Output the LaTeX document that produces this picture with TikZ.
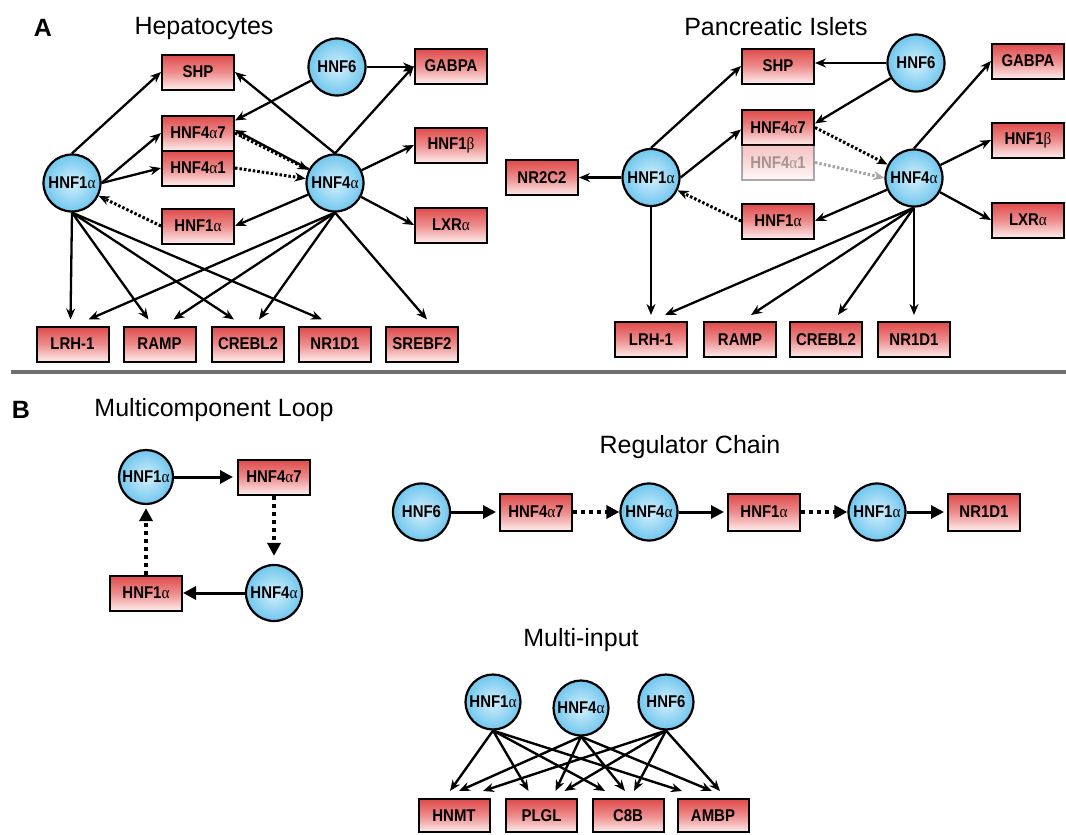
\documentclass[tikz,border=0pt]{standalone}
\usepackage{fontspec}
\setmainfont{Liberation Sans}
\newfontfamily\labelfont[FakeStretch=0.88]{Liberation Sans}
\newfontfamily\grfont[FakeStretch=0.9]{Liberation Serif}
\usetikzlibrary{arrows.meta,calc}
\pgfdeclarelayer{back}
\pgfdeclarelayer{wires}
\pgfsetlayers{back,wires,main}

\definecolor{boxtop}{RGB}{222,74,74}
\definecolor{boxmid}{RGB}{238,140,140}
\definecolor{boxbot}{RGB}{253,236,236}
\definecolor{ballin}{RGB}{212,240,252}
\definecolor{ballout}{RGB}{112,198,238}
\definecolor{rulegray}{RGB}{112,112,112}

\newcommand{\gal}{{\grfont\mdseries α}}
\newcommand{\gbe}{{\grfont\mdseries β}}

\tikzset{
  gene/.style={rectangle, draw=black, line width=2pt,
    minimum width=72pt, minimum height=35pt, inner sep=0pt,
    top color=boxtop, bottom color=boxbot, middle color=boxmid,
    font=\labelfont\bfseries\fontsize{17pt}{17pt}\selectfont},
  faded/.style={opacity=0.32, text opacity=0.32},
  tf/.style={circle, draw=black, line width=2.2pt, minimum size=57pt,
    inner sep=0pt, inner color=ballin, outer color=ballout,
    font=\labelfont\bfseries\fontsize{17pt}{17pt}\selectfont},
  heading/.style={font=\fontsize{25pt}{25pt}\selectfont},
  panel/.style={font=\bfseries\fontsize{25pt}{25pt}\selectfont},
  edge/.style={line width=2.3pt, -{Stealth[length=11pt,width=9pt]}},
  dots/.style={edge, line width=3pt, dash pattern=on 2.5pt off 2pt},
  fadeddots/.style={dots, draw=black!35, -{Stealth[length=11pt,width=9pt,fill=black!35]}},
  bedge/.style={line width=3pt, -{Triangle[length=13pt,width=13pt]}},
  bdots/.style={bedge, line width=4pt, dash pattern=on 4pt off 4pt},
  medge/.style={line width=2.4pt, -{Stealth[length=11pt,width=9pt]}},
}

\begin{document}
\begin{tikzpicture}[x=1pt,y=-1pt]
\useasboundingbox (0,0) rectangle (1066,835);
\begin{pgfonlayer}{back}
  \fill[white] (0,0) rectangle (1066,835);
\end{pgfonlayer}

% ---------------- panel A: hepatocytes ----------------
\node[panel] (labA) at (43,28) {A};
\node[heading] (tHep) at (204,28) {Hepatocytes};

\node[gene] (hSHP)   at (198,72)  {SHP};
\node[tf]   (hHNF6)  at (337,67)  {HNF6};
\node[gene] (hGABPA) at (451,66)  {GABPA};
\node[gene] (hA7)    at (198,133) {HNF4\gal7};
\node[gene] (hA1)    at (198,168) {HNF4\gal1};
\node[tf]   (hN1)    at (72,183)  {HNF1\gal};
\node[tf]   (hN4)    at (335,183) {HNF4\gal};
\node[gene] (hB1)    at (451,145) {HNF1\gbe};
\node[gene] (hLXR)   at (451,225) {LXR\gal};
\node[gene] (hH1)    at (198,226) {HNF1\gal};
\node[gene] (hLRH)   at (72.5,344)  {LRH-1};
\node[gene] (hRAMP)  at (159.5,344) {RAMP};
\node[gene] (hCREB)  at (248,344)   {CREBL2};
\node[gene] (hNR)    at (335,344)   {NR1D1};
\node[gene] (hSREBF) at (422,344)   {SREBF2};

\begin{pgfonlayer}{wires}
  \draw[edge] (hN1.north) -- (hSHP.west);
  \draw[edge] (hN1.east) -- (hA7.west);
  \draw[edge] (hN1.east) -- (hA1.west);
  \draw[dots] (hH1.west) -- (hN1);
  \draw[edge] (hHNF6.east) -- (hHNF6.east -| hGABPA.west);
  \draw[edge] (hHNF6) -- ([yshift=-6pt]hA7.north east);
  \draw[edge] (hN4) -- ([yshift=3pt]hA7.east);
  \draw[dots] (hA7.east) -- (hN4);
  \draw[dots] (hA1.east) -- (hN4);
  \draw[edge] (hN4.north) -- (hSHP.east);
  \draw[edge] (hN4.north) -- (hGABPA.west);
  \draw[edge] (hN4) -- (hB1.west);
  \draw[edge] (hN4) -- (hLXR.west);
  \draw[edge] (hN4) -- (hH1.east);
  \draw[edge] (hN1.south) -- ([xshift=-2pt,yshift=6pt]hLRH.north);
  \draw[edge] (hN1.south) -- ([xshift=-11pt,yshift=6pt]hRAMP.north);
  \draw[edge] (hN1.south) -- ([xshift=-14pt,yshift=6pt]hCREB.north);
  \draw[edge] (hN1.south) -- ([xshift=-13pt,yshift=6pt]hNR.north);
  \draw[edge] (hN4.south) -- ([xshift=16pt,yshift=6pt]hLRH.north);
  \draw[edge] (hN4.south) -- ([xshift=14pt,yshift=6pt]hRAMP.north);
  \draw[edge] (hN4.south) -- ([xshift=11pt,yshift=6pt]hCREB.north);
  \draw[edge] (hN4.south) -- ([xshift=5pt,yshift=6pt]hSREBF.north);
\end{pgfonlayer}

% ---------------- panel A: pancreatic islets ----------------
\node[heading] (tPan) at (776,27) {Pancreatic Islets};

\node[gene] (pSHP)   at (778,66)    {SHP};
\node[tf]   (pHNF6)  at (916,63)    {HNF6};
\node[gene] (pGABPA) at (1028,61)   {GABPA};
\node[gene] (pA7)    at (778,127.5) {HNF4\gal7};
\node[gene,faded] (pA1) at (778,162.5) {HNF4\gal1};
\node[tf]   (pN1)    at (651,177.5) {HNF1\gal};
\node[gene] (pNR2)   at (542,177.5) {NR2C2};
\node[tf]   (pN4)    at (914,178)   {HNF4\gal};
\node[gene] (pB1)    at (1028,140)  {HNF1\gbe};
\node[gene] (pLXR)   at (1028,220)  {LXR\gal};
\node[gene] (pH1)    at (778,221)   {HNF1\gal};
\node[gene] (pLRH)   at (651,339.5) {LRH-1};
\node[gene] (pRAMP)  at (740,339.5) {RAMP};
\node[gene] (pCREB)  at (826,339.5) {CREBL2};
\node[gene] (pNR)    at (914,339.5) {NR1D1};

\begin{pgfonlayer}{wires}
  \draw[edge] (pN1.north) -- (pSHP.west);
  \draw[edge] (pN1.east) -- ([yshift=-2pt]pA7.west);
  \draw[edge] (pN1.west) -- (pNR2.east);
  \draw[dots] (pH1.west) -- (pN1);
  \draw[edge] (pN1.south) -- ([yshift=6pt]pLRH.north);
  \draw[edge] (pHNF6.west) -- (pHNF6.west -| pSHP.east);
  \draw[edge] (pHNF6) -- ([yshift=4pt]pA7.east);
  \draw[dots] (pA7.east) -- (pN4);
  \draw[fadeddots] (pA1.east) -- (pN4.west);
  \draw[edge] (pN4) -- (pH1.east);
  \draw[edge] (pN4.north) -- (pGABPA.west);
  \draw[edge] (pN4) -- (pB1.west);
  \draw[edge] (pN4) -- (pLXR.west);
  \draw[edge] (pN4.south) -- ([xshift=14pt,yshift=6pt]pLRH.north);
  \draw[edge] (pN4.south) -- ([xshift=11pt,yshift=6pt]pRAMP.north);
  \draw[edge] (pN4.south) -- ([xshift=12pt,yshift=6pt]pCREB.north);
  \draw[edge] (pN4.south) -- ([yshift=6pt]pNR.north);
\end{pgfonlayer}

% divider between the panels
\draw[rulegray, line width=4pt] (11,372) -- (1066,372);

% ---------------- panel B: multicomponent loop ----------------
\node[panel] (labB) at (21,410) {B};
\node[heading] (tLoop) at (214,410) {Multicomponent Loop};

\node[tf,minimum size=54pt] (lN1) at (146,477) {HNF1\gal};
\node[gene] (lA7) at (274,477) {HNF4\gal7};
\node[tf,minimum size=56pt] (lN4) at (274,593) {HNF4\gal};
\node[gene] (lH1) at (146,593) {HNF1\gal};

\begin{pgfonlayer}{wires}
  \draw[bedge, shorten >=4pt] (lN1) -- (lA7);
  \draw[bdots, shorten >=8pt] (lA7) -- (lN4);
  \draw[bedge] (lN4) -- (lH1);
  \draw[bdots, shorten >=3pt] (lH1) -- (lN1);
\end{pgfonlayer}

% ---------------- panel B: regulator chain ----------------
\node[heading] (tChain) at (690,447) {Regulator Chain};

\node[tf]   (cN6) at (421.5,512) {HNF6};
\node[gene,minimum height=37pt] (cA7) at (536,512) {HNF4\gal7};
\node[tf]   (cN4) at (649,512) {HNF4\gal};
\node[gene,minimum height=37pt] (cH1) at (764,512) {HNF1\gal};
\node[tf]   (cN1) at (877,512) {HNF1\gal};
\node[gene,minimum height=37pt] (cNR) at (984,512) {NR1D1};

\begin{pgfonlayer}{wires}
  \draw[bedge, shorten >=3pt] (cN6) -- (cA7);
  \draw[bdots] (cA7) -- (cN4);
  \draw[bedge, shorten >=3pt] (cN4) -- (cH1);
  \draw[bdots] (cH1) -- (cN1);
  \draw[bedge, shorten >=3pt] (cN1) -- (cNR);
\end{pgfonlayer}

% ---------------- panel B: multi-input ----------------
\node[heading] (tMulti) at (581,640) {Multi-input};

\node[tf,minimum size=55pt] (mN1) at (493,702) {HNF1\gal};
\node[tf,minimum size=55pt] (mN4) at (581,708) {HNF4\gal};
\node[tf,minimum size=55pt] (mN6) at (666,702) {HNF6};
\node[gene,minimum width=71pt,minimum height=33pt] (mHNMT) at (454,815.5)   {HNMT};
\node[gene,minimum width=71pt,minimum height=33pt] (mPLGL) at (541.5,815.5) {PLGL};
\node[gene,minimum width=71pt,minimum height=33pt] (mC8B)  at (628,815.5)   {C8B};
\node[gene,minimum width=71pt,minimum height=33pt] (mAMBP) at (713,815.5)   {AMBP};

\begin{pgfonlayer}{wires}
  \draw[medge] (mN1.south) -- ([xshift=-4pt,yshift=7pt]mHNMT.north);
  \draw[medge] (mN4.south) -- ([xshift=5pt,yshift=7pt]mHNMT.north);
  \draw[medge] (mN6.south) -- ([xshift=29pt,yshift=7pt]mHNMT.north);
  \draw[medge] (mN1.south) -- ([xshift=-13pt,yshift=7pt]mPLGL.north);
  \draw[medge] (mN4.south) -- ([xshift=14pt,yshift=7pt]mPLGL.north);
  \draw[medge] (mN6.south) -- ([xshift=23pt,yshift=7pt]mPLGL.north);
  \draw[medge] (mN1.south) -- ([xshift=-23pt,yshift=7pt]mC8B.north);
  \draw[medge] (mN4.south) -- ([xshift=-3pt,yshift=7pt]mC8B.north);
  \draw[medge] (mN6.south) -- ([xshift=6pt,yshift=7pt]mC8B.north);
  \draw[medge] (mN1.south) -- ([xshift=-31pt,yshift=7pt]mAMBP.north);
  \draw[medge] (mN4.south) -- ([xshift=-1pt,yshift=7pt]mAMBP.north);
  \draw[medge] (mN6.south) -- ([xshift=7pt,yshift=7pt]mAMBP.north);
\end{pgfonlayer}
\end{tikzpicture}
\end{document}
